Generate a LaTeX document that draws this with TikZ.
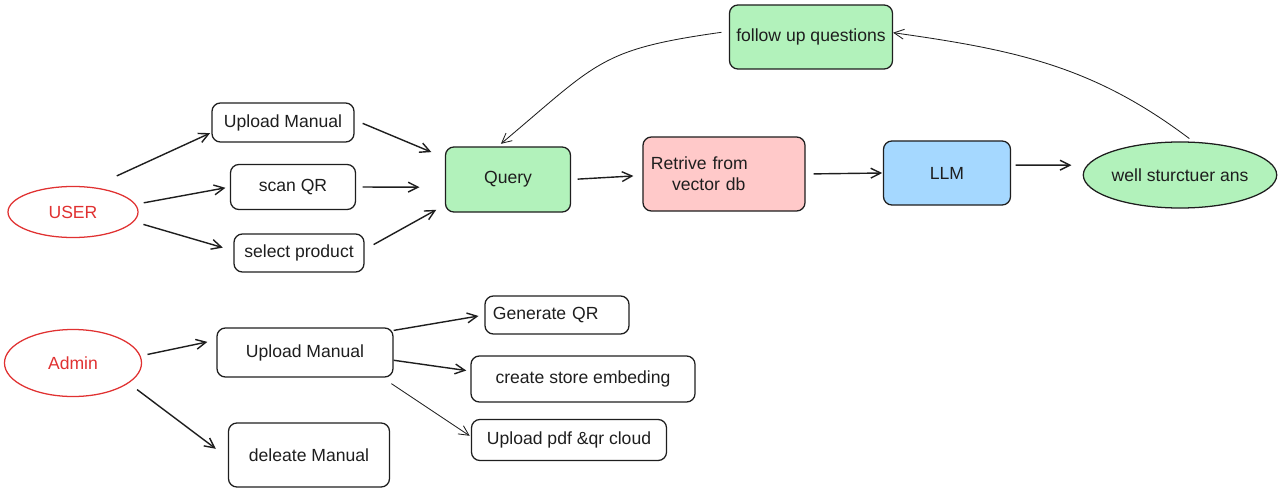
\documentclass[tikz,border=0pt]{standalone}
\usepackage{fontspec}
\setmainfont{Liberation Sans}
\usetikzlibrary{arrows.meta,shapes.geometric}

\definecolor{ink}{HTML}{1E1E1E}
\definecolor{ured}{HTML}{E03131}
\definecolor{qgreen}{HTML}{B2F2BB}
\definecolor{rpink}{HTML}{FFC9C9}
\definecolor{lblue}{HTML}{A5D8FF}

\begin{document}
\begin{tikzpicture}[x=0.025cm, y=-0.025cm,
        font=\fontsize{12.5}{15}\selectfont, text=ink,
        box/.style={draw=ink, line width=0.9pt, rounded corners=6pt, inner xsep=2pt},
        actor/.style={ellipse, draw=ured, line width=0.9pt, text=ured, inner sep=0pt},
        arr/.style={draw=ink, line width=1pt, -{Straight Barb[length=7pt,width=7pt]}},
        thinarr/.style={arr, line width=0.6pt}]

                \useasboundingbox (0,0) rectangle (1280,492);

                \node[actor, minimum width=3.25cm, minimum height=1.275cm] (usr) at (73,212) {USER};

                \node[actor, minimum width=3.425cm, minimum height=1.675cm] (adm) at (73,363) {Admin};

                \node[box, minimum width=3.55cm, minimum height=0.975cm] (upl) at (283,122.5) {Upload Manual};

                \node[box, minimum width=3.125cm, minimum height=1.125cm] (scan) at (293,187) {scan QR};

                \node[box, minimum width=3.25cm, minimum height=0.95cm] (sel) at (299,253) {select product};

                \node[box, fill=qgreen, minimum width=3.125cm, minimum height=1.625cm] (qry) at (508,179.5) {Query};

                \node[box, fill=rpink, minimum height=1.85cm, text width=3.65cm, inner xsep=0.2cm, align=left] (ret) at (724,174) {Retrive from\\\hspace*{15pt}vector db};

                \node[box, fill=lblue, minimum width=3.175cm, minimum height=1.6cm] (llm) at (947,173) {LLM};

                \node[ellipse, draw=ink, line width=0.9pt, fill=qgreen, inner sep=0pt, minimum width=4.8cm, minimum height=1.65cm] (ans) at (1180,175) {well sturctuer ans};

                \node[box, fill=qgreen, minimum width=4.075cm, minimum height=1.6cm] (fup) at (811,37) {follow up questions};

                \node[box, minimum width=4.4cm, minimum height=1.225cm] (upla) at (305,352.5) {Upload Manual};

                \node[box, minimum height=0.95cm, text width=3.2cm, inner xsep=0.2cm, align=left] (gen) at (557,315) {Generate QR};

                \node[box, minimum width=5.6cm, minimum height=1.15cm] (emb) at (583,379) {create store embeding};

                \node[box, minimum width=4.875cm, minimum height=1.025cm] (cld) at (569,440) {Upload pdf \&qr cloud};

                \node[box, minimum width=4.025cm, minimum height=1.6cm] (del) at (309,455) {deleate Manual};

                \draw[arr, shorten <=19pt, shorten >=1pt] (usr.52) -- (upl.188);

                \draw[arr, shorten <=5.8pt, shorten >=3.2pt] (usr.7) -- (scan.west);

                \draw[arr, shorten <=7pt, shorten >=7.8pt] (usr.-9) -- (sel.178);

                \draw[arr, shorten <=6.2pt, shorten >=10.4pt] (upl.2) -- (qry.161);

                \draw[arr, shorten <=4.6pt, shorten >=18pt] (scan.east) -- (qry.187);

                \draw[arr, shorten <=7.3pt, shorten >=7pt] (sel.3) -- (qry.202);

                \draw[arr, shorten <=4.6pt, shorten >=6.4pt] (qry.east) -- (ret.181);

                \draw[arr, shorten <=5.7pt, shorten >=0.5pt] (ret.east) -- (llm.west);

                \draw[arr, shorten <=3.2pt, shorten >=11pt] (llm.7) -- (ans.174);

                \draw[thinarr, shorten <=3.7pt] (ans.68) to[out=143, in=-8] (fup.3);

                \draw[thinarr, shorten <=5.3pt, shorten >=2.8pt] (fup.176) to[out=188, in=40, looseness=1.3] (qry.107);

                \draw[arr, shorten <=5pt, shorten >=6.5pt] (adm.6) -- (upla.172);

                \draw[arr, shorten <=7.5pt, shorten >=10.7pt] (adm.-20) -- (del.182);

                \draw[arr, shorten >=4.2pt] (upla.14) -- (gen.west);

                \draw[arr, shorten >=2.9pt] (upla.-5) -- (emb.176);

                \draw[thinarr, shorten <=7.7pt, shorten >=1pt] (upla.-18) -- (cld.178);
            \end{tikzpicture}
\end{document}
